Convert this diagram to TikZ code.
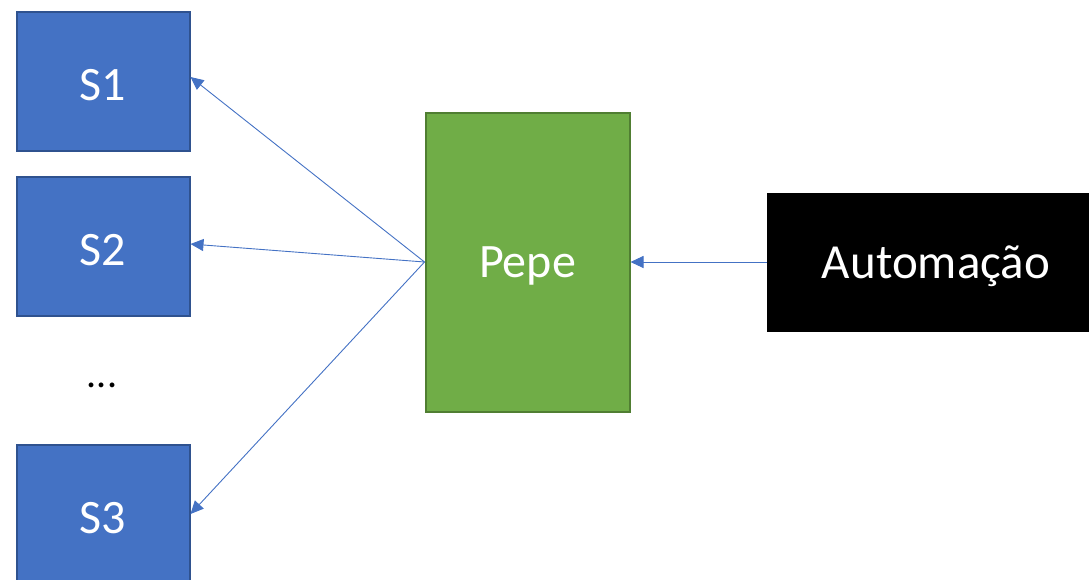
\documentclass[tikz,border=0pt]{standalone}
\usepackage{fontspec}
\setmainfont{Carlito}
\usetikzlibrary{arrows.meta}
\definecolor{sblue}{HTML}{4472C4}
\definecolor{sblueD}{HTML}{2F528F}
\definecolor{sgreen}{HTML}{70AD47}
\definecolor{sgreenD}{HTML}{507E32}
\begin{document}
\begin{tikzpicture}[x=1pt,y=-1pt,
  sbox/.style={draw=sblueD,fill=sblue,line width=2pt,minimum width=173pt,minimum height=139pt,inner sep=0pt},
  pbox/.style={draw=sgreenD,fill=sgreen,line width=2pt,minimum width=204pt,minimum height=299pt,inner sep=0pt},
  abox/.style={draw=black,fill=black,line width=1pt,minimum width=340pt,minimum height=138pt,inner sep=0pt},
  wtext/.style={text=white,font=\fontsize{48}{56}\selectfont},
  conn/.style={draw=sblue,line width=0.9pt,-{Triangle[length=13pt,width=12pt]}}]
\useasboundingbox (0,0) rectangle (1089,579);
\clip (0,0) rectangle (1089,579);
\node[sbox] (s1) at (103,81) {};
\node[wtext] (s1t) at (103,85) {S1};
\node[sbox] (s2) at (103,246) {};
\node[wtext] (s2t) at (103,250) {S2};
\node[sbox] (s3) at (103,514) {};
\node[wtext] (s3t) at (103,518) {S3};
\node[font=\fontsize{40}{48}\selectfont] (dots) at (102,385) {...};
\node[pbox] (pepe) at (527.5,262) {};
\node[wtext] (pepetxt) at (527.5,266) {Pepe};
\node[abox,anchor=west] (auto) at (767,262) {};
\node[wtext,font=\fontsize{49}{57}\selectfont] (autotxt) at (936,266) {Automação};
\draw[conn] (pepe.west) -- ([yshift=4pt]s1.east);
\draw[conn] (pepe.west) -- ([yshift=2pt]s2.east);
\draw[conn] (pepe.west) -- (s3.east);
\draw[conn] (auto.west) -- (pepe.east);
\end{tikzpicture}
\end{document}
